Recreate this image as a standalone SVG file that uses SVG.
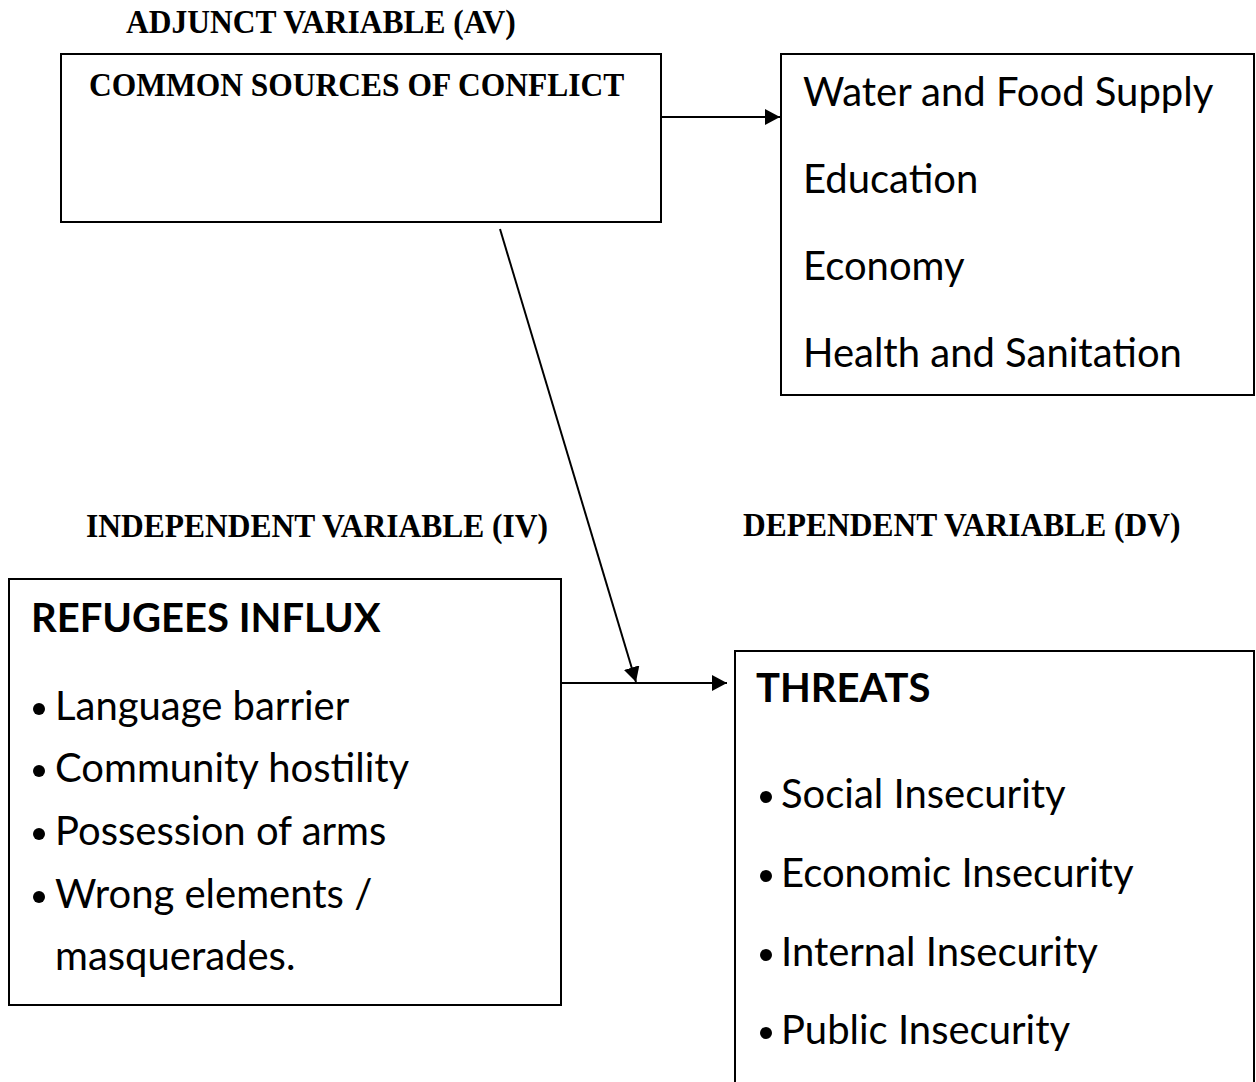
<svg xmlns="http://www.w3.org/2000/svg" width="1256" height="1082" viewBox="0 0 1256 1082">
<style>
.box{fill:#ffffff;stroke:#000000;stroke-width:2}
.hdr{font-family:"Liberation Serif","Times New Roman",serif;font-weight:bold;font-size:31.5px;fill:#000000}
.body{font-family:Lato,"Open Sans",sans-serif;font-size:40px;fill:#000000}
.bold{font-weight:bold}
.conn{fill:none;stroke:#000000;stroke-width:2}
.dot{fill:#000000}
</style>
<defs>
<marker id="arrow" markerUnits="userSpaceOnUse" markerWidth="16" markerHeight="16" refX="15" refY="8" orient="auto">
<path d="M0,0 L15,8 L0,16 Z" fill="#000000"/>
</marker>
</defs>
<rect width="1256" height="1082" fill="#ffffff"/>

<g id="label-av"><text class="hdr" transform="translate(126,33) scale(1,1.1)">ADJUNCT VARIABLE (AV)</text></g>
<g id="label-iv"><text class="hdr" transform="translate(86,537) scale(1,1.1)">INDEPENDENT VARIABLE (IV)</text></g>
<g id="label-dv"><text class="hdr" transform="translate(743,536) scale(1,1.1)">DEPENDENT VARIABLE (DV)</text></g>

<g id="node-sources">
<rect class="box" x="61" y="54" width="600" height="168"/>
<text class="hdr" transform="translate(89,96) scale(1,1.1)">COMMON SOURCES OF CONFLICT</text>
</g>

<g id="node-areas">
<rect class="box" x="781" y="54" width="473" height="341"/>
<text class="body" x="803" y="106">Water and Food Supply</text>
<text class="body" x="803" y="193">Education</text>
<text class="body" x="803" y="280">Economy</text>
<text class="body" x="803" y="367">Health and Sanitation</text>
</g>

<g id="node-refugees">
<rect class="box" x="9" y="579" width="552" height="426"/>
<text class="body bold" x="31" y="632">REFUGEES INFLUX</text>
<circle class="dot" cx="39" cy="709" r="6"/>
<text class="body" x="55" y="720">Language barrier</text>
<circle class="dot" cx="39" cy="771" r="6"/>
<text class="body" x="55" y="782">Community hostility</text>
<circle class="dot" cx="39" cy="834" r="6"/>
<text class="body" x="55" y="845">Possession of arms</text>
<circle class="dot" cx="39" cy="897" r="6"/>
<text class="body" x="55" y="908">Wrong elements /</text>
<text class="body" x="55" y="970">masquerades.</text>
</g>

<g id="node-threats">
<rect class="box" x="735" y="651" width="519" height="500"/>
<text class="body bold" x="756" y="702">THREATS</text>
<circle class="dot" cx="766" cy="797" r="6"/>
<text class="body" x="781" y="808">Social Insecurity</text>
<circle class="dot" cx="766" cy="876" r="6"/>
<text class="body" x="781" y="887">Economic Insecurity</text>
<circle class="dot" cx="766" cy="955" r="6"/>
<text class="body" x="781" y="966">Internal Insecurity</text>
<circle class="dot" cx="766" cy="1033" r="6"/>
<text class="body" x="781" y="1044">Public Insecurity</text>
</g>

<g id="connectors">
<path class="conn" d="M661,117 L780,117" marker-end="url(#arrow)"/>
<path class="conn" d="M500,229 L636,682" marker-end="url(#arrow)"/>
<path class="conn" d="M561,683 L727,683" marker-end="url(#arrow)"/>
</g>
</svg>
